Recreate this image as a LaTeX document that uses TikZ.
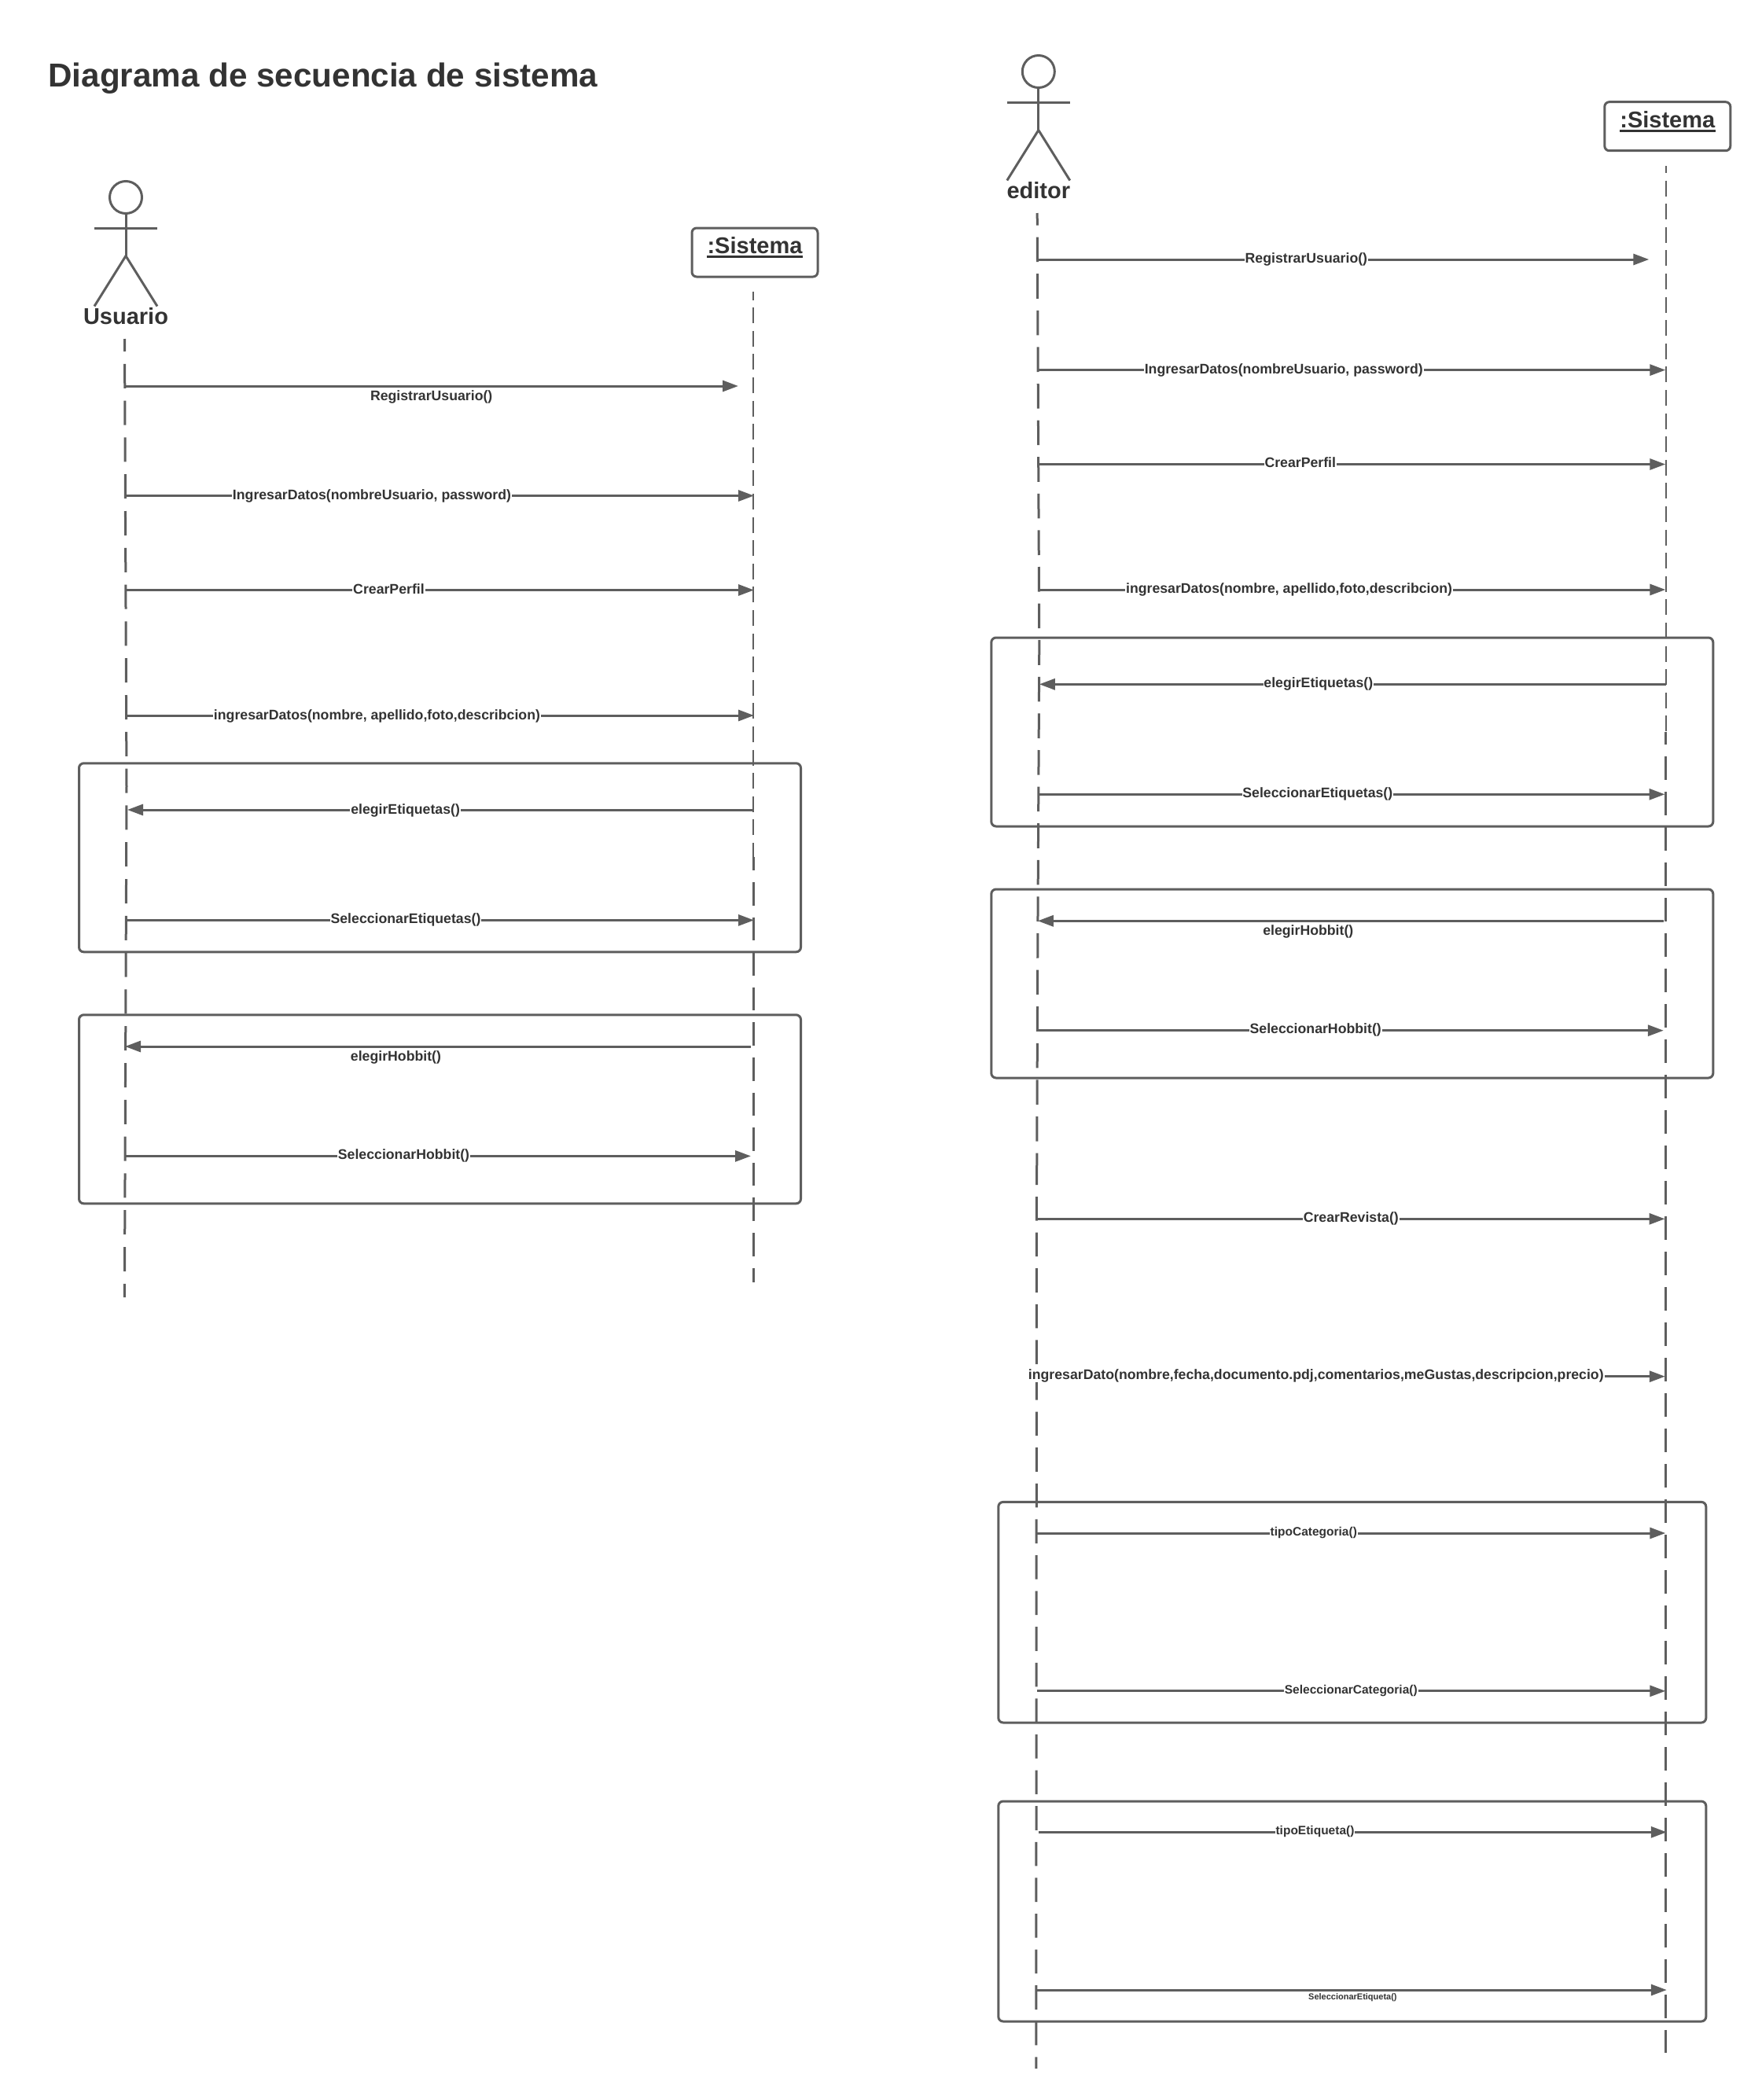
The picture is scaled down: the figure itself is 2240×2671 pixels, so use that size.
\documentclass[tikz,border=0pt]{standalone}
\usepackage{fontspec}
\setmainfont{Liberation Sans}
\usetikzlibrary{arrows.meta}
\definecolor{lineg}{HTML}{5E5E5E}
\definecolor{textg}{HTML}{333333}
\newcommand{\fsz}[1]{\fontsize{#1}{#1}\selectfont\bfseries}
\tikzset{
  x=0.5pt,y=-0.5pt,
  msgline/.style={draw=lineg,line width=1.5pt,-{Triangle[length=10pt,width=7pt]}},
  lab/.style={anchor=base,text=textg,fill=white,inner xsep=0.4pt,inner ysep=0pt,font=\fsz{8.85pt}},
  labplain/.style={lab,fill=none},
  labsmall/.style={lab,font=\fsz{7.75pt}},
  labtiny/.style={labplain,font=\fsz{5.5pt}},
  lifewide/.style={draw=lineg,line width=1.5pt},
  lifethin/.style={draw=lineg,line width=1pt,dash pattern=on 10pt off 4.8pt},
  fragbox/.style={draw=lineg,line width=1.5pt,rounded corners=3pt,minimum width=#1,minimum height=120pt,inner sep=0pt,outer sep=0pt},
  sysbox/.style={draw=lineg,line width=1.5pt,rounded corners=3pt,minimum width=80pt,minimum height=31pt,inner sep=0pt,outer sep=0pt},
  syslab/.style={anchor=base,text=textg,inner sep=0pt,font=\fsz{14.5pt}},
  actorlab/.style={anchor=base,text=textg,inner sep=0pt,font=\fsz{14.5pt}},
  actorhead/.style={circle,draw=lineg,line width=1.5pt,minimum size=20.5pt,inner sep=0pt,outer sep=0pt},
  stick/.style={draw=lineg,line width=1.5pt},
  underl/.style={draw=textg,line width=1.3pt},
  rightside/.style={xshift=0.4pt}
}
% name, x from, x to, y, label x, label baseline, label style, text
\newcommand{\seqmsg}[8]{%
  \coordinate (#1a) at (#2,#4);
  \coordinate (#1b) at (#3,#4);
  \draw[msgline] (#1a) -- (#1b);
  \node[#7] (#1t) at (#5,#6) {#8};
}
% name, x, y of head
\newcommand{\seqactor}[3]{%
  \node[actorhead] (#1h) at (#2,#3) {};
  \coordinate (#1n) at (#2,#3+39.5);
  \coordinate (#1l) at (#2-40,#3+39.5);
  \coordinate (#1r) at (#2+40,#3+39.5);
  \coordinate (#1w) at (#2,#3+74.5);
  \coordinate (#1f) at (#2-40,#3+138.5);
  \coordinate (#1g) at (#2+40,#3+138.5);
  \draw[stick] (#1h.south) -- (#1w);
  \draw[stick] (#1l) -- (#1r);
  \draw[stick] (#1f) -- (#1w) -- (#1g);
}
\begin{document}
\begin{tikzpicture}
\useasboundingbox (0,0) rectangle (2240,2671);
\node[anchor=base west,text=textg,inner sep=0pt,font=\fsz{21.1pt}] (title) at (61,110.5) {Diagrama de secuencia de sistema};

% ---- lifelines, left diagram
\coordinate (ua) at (158.5,431); \coordinate (ub) at (161,1000); \coordinate (uc) at (158.4,1650);
\draw[lifewide,dash pattern=on 15.5pt off 7.9pt,dash phase=7.5pt] (ua) -- (ub) -- (uc);
\coordinate (sa) at (957.6,370.5); \coordinate (sb) at (957.6,1090);
\draw[lifethin,dash phase=4.5pt] (sa) -- (sb);
\coordinate (sc) at (958,1090); \coordinate (sd) at (958,1631);
\draw[lifewide,dash pattern=on 14.8pt off 7.5pt,dash phase=6.3pt] (sc) -- (sd);

% ---- actors and objects, left diagram
\seqactor{aU}{160}{251}
\node[actorlab] (aUt) at (160,412) {Usuario};
\node[sysbox] (sys1) at (960,321) {};
\node[syslab] (sys1t) at (960,322) {:Sistema};
\draw[underl] ([yshift=-2.1pt]sys1t.base west) -- ([yshift=-2.1pt]sys1t.base east);

% ---- fragments, left diagram
\node[fragbox=459pt] (f1) at (559.5,1090.8) {};
\node[fragbox=459pt] (f2) at (559.5,1410.8) {};

% ---- messages, left diagram
\seqmsg{m1}{158.5}{939}{491}{548.7}{509.5}{labplain}{RegistrarUsuario()}
\seqmsg{m2}{159.5}{959}{630.5}{473}{635}{lab}{IngresarDatos(nombreUsuario, password)}
\seqmsg{m3}{160}{959}{750.5}{494.5}{755}{lab}{CrearPerfil}
\seqmsg{m4}{160.5}{959}{910}{479.5}{915}{lab}{ingresarDatos(nombre, apellido,foto,describcion)}
\seqmsg{m5}{958}{162}{1030}{515.6}{1035}{lab}{elegirEtiquetas()}
\seqmsg{m6}{161}{959}{1170.4}{516}{1174.5}{lab}{SeleccionarEtiquetas()}
\seqmsg{m7}{955}{159}{1331}{503.5}{1349.6}{labplain}{elegirHobbit()}
\seqmsg{m8}{160}{955}{1470.4}{513.5}{1474}{lab}{SeleccionarHobbit()}

\begin{scope}[rightside]
% ---- lifelines, right diagram
\coordinate (ea) at (1318.4,271); \coordinate (eb) at (1321,820); \coordinate (ec) at (1319,1200); \coordinate (ed) at (1317.9,1491);
\draw[lifewide,dash pattern=on 15.8pt off 7.5pt,dash phase=8pt] (ea) -- (eb) -- (ec) -- (ed);
\coordinate (ee) at (1317.7,1491); \coordinate (ef) at (1317,2631);
\draw[lifewide,dash pattern=on 15.3pt off 7.5pt,dash phase=7.3pt] (ee) -- (ef);
\coordinate (ta) at (2117.8,211); \coordinate (tb) at (2117.8,931);
\draw[lifethin,dash phase=5.5pt] (ta) -- (tb);
\coordinate (tc) at (2118,931); \coordinate (td) at (2118,2611);
\draw[lifewide,dash pattern=on 15pt off 7.5pt,dash phase=7pt] (tc) -- (td);

% ---- actors and objects, right diagram
\seqactor{aE}{1320}{91}
\node[actorlab] (aEt) at (1320,252) {editor};
\node[sysbox] (sys2) at (2120,160.7) {};
\node[syslab] (sys2t) at (2120,162.5) {:Sistema};
\draw[underl] ([yshift=-2.1pt]sys2t.base west) -- ([yshift=-2.1pt]sys2t.base east);

% ---- fragments, right diagram
\node[fragbox=459pt] (f3) at (1719,931) {};
\node[fragbox=459pt] (f4) at (1719,1251) {};
\node[fragbox=450pt,minimum height=140.3pt] (f5) at (1719,2050.7) {};
\node[fragbox=450pt,minimum height=140pt] (f6) at (1719,2431) {};

% ---- messages, right diagram
\seqmsg{n1}{1318.5}{2096.5}{330}{1660.6}{334}{lab}{RegistrarUsuario()}
\seqmsg{n2}{1319.5}{2117.5}{470.6}{1632}{475}{lab}{IngresarDatos(nombreUsuario, password)}
\seqmsg{n3}{1319.5}{2117.5}{590.5}{1653}{594.5}{lab}{CrearPerfil}
\seqmsg{n4}{1320}{2117.5}{750}{1638.8}{754}{lab}{ingresarDatos(nombre, apellido,foto,describcion)}
\seqmsg{n5}{2118}{1321}{870.3}{1676}{874.5}{lab}{elegirEtiquetas()}
\seqmsg{n6}{1321}{2116.7}{1010.3}{1675}{1014.5}{lab}{SeleccionarEtiquetas()}
\seqmsg{n7}{2115}{1319}{1171.3}{1663}{1189}{labplain}{elegirHobbit()}
\seqmsg{n8}{1319}{2115}{1310.7}{1672.4}{1314.5}{lab}{SeleccionarHobbit()}
\seqmsg{n9}{1318}{2116.7}{1550.3}{1717.5}{1554}{lab}{CrearRevista()}
\seqmsg{n10}{1318}{2117}{1750.7}{1673}{1754.3}{lab}{ingresarDato(nombre,fecha,documento.pdj,comentarios,meGustas,descripcion,precio)}
\seqmsg{n11}{1317}{2117.5}{1950}{1670}{1953}{labsmall}{tipoCategoria()}
\seqmsg{n12}{1318}{2117.5}{2150.8}{1717.5}{2154}{labsmall}{SeleccionarCategoria()}
\seqmsg{n13}{1320}{2119}{2330.3}{1671.7}{2333.5}{labsmall}{tipoEtiqueta()}
\seqmsg{n14}{1318.5}{2119}{2531}{1719.6}{2543}{labtiny}{SeleccionarEtiqueta()}
\end{scope}
\end{tikzpicture}
\end{document}
